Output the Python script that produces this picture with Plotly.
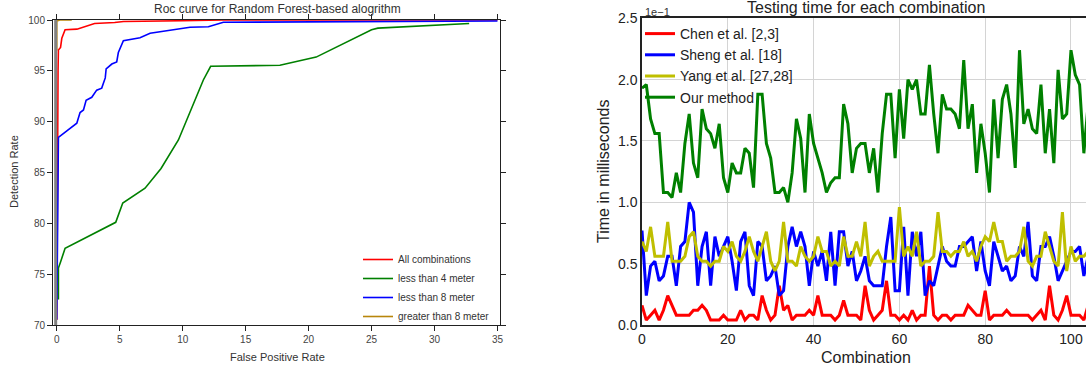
import plotly.graph_objects as go

W, H = 1086, 368

# ---------------- Left chart: ROC curves ----------------
roc_all_x = [0.0, 0.02, 0.05, 0.1, 0.13, 0.26, 0.3, 0.4, 0.53, 0.66, 1.6, 2.65, 3.0, 4.6, 5.3, 10.0, 13.2, 35.0]
roc_all_y = [70.5, 80.0, 88.0, 95.0, 97.05, 97.2, 97.3, 98.2, 98.6, 99.05, 99.1, 99.5, 99.65, 99.75, 99.85, 99.93, 100.0, 100.0]

roc_lt4_x = [0.13, 0.13, 0.3, 0.66, 4.68, 5.24, 7.01, 8.28, 9.66, 11.32, 11.64, 12.22, 17.72, 20.6, 25.0, 25.5, 32.75]
roc_lt4_y = [72.5, 75.6, 76.2, 77.55, 80.1, 82.0, 83.45, 85.4, 88.2, 93.1, 94.1, 95.45, 95.55, 96.35, 99.05, 99.2, 99.65]

roc_lt8_x = [0.0, 0.05, 0.13, 0.8, 1.59, 1.85, 2.12, 2.33, 2.78, 3.17, 3.57, 3.85, 3.92, 4.37, 4.76, 4.89, 5.29,
             6.61, 7.41, 10.58, 12.04, 13.23, 35.0]
roc_lt8_y = [70.55, 81.0, 88.45, 89.1, 89.85, 90.9, 91.15, 92.1, 92.4, 93.1, 93.3, 94.3, 95.2, 95.67, 95.88, 96.8,
             97.97, 98.26, 98.7, 99.28, 99.34, 99.78, 99.9]

roc_gt8_x = [0.0, 0.0, 0.25, 1.19]
roc_gt8_y = [97.0, 99.9, 100.0, 100.0]

roc_names = ["All combinations", "less than 4 meter", "less than 8 meter", "greater than 8 meter"]
roc_xticks = [0, 5, 10, 15, 20, 25, 30, 35]
roc_yticks = [70, 75, 80, 85, 90, 95, 100]

# ---------------- Right chart: testing time (units of 1e-1 ms) ----------------
chen = [0.16, 0.04, 0.08, 0.12, 0.04, 0.12, 0.24, 0.16, 0.08, 0.08, 0.08, 0.08, 0.12, 0.12, 0.16, 0.12, 0.04, 0.04,
        0.04, 0.08, 0.04, 0.04, 0.04, 0.12, 0.04, 0.08, 0.08, 0.04, 0.24, 0.12, 0.04, 0.08, 0.32, 0.12, 0.16, 0.04,
        0.08, 0.08, 0.08, 0.12, 0.08, 0.24, 0.08, 0.08, 0.08, 0.04, 0.08, 0.20, 0.08, 0.08, 0.08, 0.04, 0.32, 0.12,
        0.04, 0.08, 0.12, 0.36, 0.08, 0.08, 0.04, 0.08, 0.04, 0.12, 0.04, 0.08, 0.08, 0.48, 0.08, 0.04, 0.08, 0.08,
        0.04, 0.08, 0.08, 0.08, 0.16, 0.12, 0.08, 0.08, 0.28, 0.04, 0.08, 0.08, 0.08, 0.12, 0.08, 0.08, 0.08, 0.08,
        0.08, 0.04, 0.08, 0.12, 0.04, 0.32, 0.08, 0.04, 0.12, 0.24, 0.08, 0.08, 0.08, 0.04, 0.16]
sheng = [0.77, 0.24, 0.48, 0.52, 0.36, 0.40, 0.56, 0.56, 0.32, 0.64, 0.68, 1.00, 0.92, 0.32, 0.64, 0.76, 0.32, 0.72,
         0.56, 0.64, 0.72, 0.52, 0.28, 0.68, 0.76, 0.32, 0.24, 0.68, 0.64, 0.36, 0.40, 0.48, 0.24, 0.28, 0.64, 0.80,
         0.64, 0.76, 0.64, 0.32, 0.60, 0.48, 0.60, 0.36, 0.76, 0.32, 0.76, 0.76, 0.48, 0.60, 0.36, 0.44, 0.56, 0.36,
         0.32, 0.32, 0.32, 0.64, 0.88, 0.28, 0.28, 0.80, 0.24, 0.76, 0.56, 0.76, 0.24, 0.36, 0.32, 0.48, 0.64, 0.52,
         0.48, 0.48, 0.64, 0.64, 0.68, 0.72, 0.44, 0.68, 0.44, 0.32, 0.68, 0.56, 0.44, 0.48, 0.36, 0.40, 0.64, 0.56,
         0.84, 0.40, 0.36, 0.64, 0.64, 0.72, 0.56, 0.36, 0.44, 0.52, 0.60, 0.60, 0.64, 0.40, 0.56]
yang = [0.68, 0.60, 0.80, 0.56, 0.56, 0.56, 0.84, 0.52, 0.52, 0.52, 0.56, 0.72, 0.76, 0.56, 0.52, 0.52, 0.48, 0.52,
        0.52, 0.64, 0.60, 0.68, 0.56, 0.52, 0.60, 0.72, 0.60, 0.52, 0.64, 0.76, 0.52, 0.44, 0.52, 0.84, 0.52, 0.52,
        0.48, 0.64, 0.56, 0.52, 0.56, 0.72, 0.60, 0.60, 0.48, 0.52, 0.48, 0.72, 0.56, 0.56, 0.68, 0.56, 0.84, 0.48,
        0.56, 0.60, 0.52, 0.52, 0.52, 0.52, 0.96, 0.56, 0.64, 0.56, 0.76, 0.48, 0.52, 0.52, 0.56, 0.92, 0.60, 0.60,
        0.56, 0.60, 0.60, 0.68, 0.56, 0.60, 0.52, 0.64, 0.72, 0.68, 0.84, 0.68, 0.68, 0.52, 0.56, 0.56, 0.60, 0.80,
        0.52, 0.48, 0.56, 0.56, 0.76, 0.64, 0.52, 0.48, 0.92, 0.44, 0.64, 0.52, 0.56, 0.56, 0.60]
ours = [1.93, 1.96, 1.68, 1.56, 1.56, 1.08, 1.08, 1.04, 1.24, 1.08, 1.48, 1.72, 1.32, 1.20, 1.76, 1.60, 1.56, 1.44,
        1.64, 1.20, 1.08, 1.32, 1.24, 1.24, 1.44, 1.40, 1.12, 1.88, 1.88, 1.48, 1.36, 1.08, 1.08, 1.12, 1.00, 1.24,
        1.68, 1.52, 1.08, 1.72, 1.48, 1.36, 1.24, 1.08, 1.16, 1.20, 1.20, 1.80, 1.64, 1.24, 1.44, 1.48, 1.48, 1.24,
        1.44, 1.08, 1.56, 1.88, 1.88, 1.36, 1.92, 1.52, 2.00, 1.92, 2.00, 1.72, 1.72, 2.12, 1.72, 1.40, 1.88, 1.76,
        1.76, 1.72, 1.60, 2.16, 1.60, 1.80, 1.24, 1.64, 1.40, 1.08, 1.84, 1.36, 1.84, 1.96, 1.72, 1.28, 2.24, 1.64,
        1.76, 1.60, 1.56, 1.96, 1.40, 1.76, 1.32, 2.08, 1.68, 1.72, 2.24, 2.04, 1.96, 1.40, 1.80]
combination = list(range(len(ours)))
time_names = ["Chen et al. [2,3]", "Sheng et al. [18]", "Yang et al. [27,28]", "Our method"]
time_xticks = [0, 20, 40, 60, 80, 100]
time_yticks = [0.0, 0.5, 1.0, 1.5, 2.0, 2.5]

FONT = "Liberation Sans, Arial, sans-serif"

fig = go.Figure()

# left traces
for xs, ys, name, col in [(roc_all_x, roc_all_y, roc_names[0], "#ff0000"),
                          (roc_lt4_x, roc_lt4_y, roc_names[1], "#008000"),
                          (roc_lt8_x, roc_lt8_y, roc_names[2], "#0000ff"),
                          (roc_gt8_x, roc_gt8_y, roc_names[3], "#b8860b")]:
    fig.add_trace(go.Scatter(x=xs, y=ys, mode="lines", name=name, line=dict(color=col, width=1.6),
                             xaxis="x", yaxis="y", legend="legend"))

# right traces
for ys, name, col in [(chen, time_names[0], "#ff0000"),
                      (sheng, time_names[1], "#0000ff"),
                      (yang, time_names[2], "#bfbf00"),
                      (ours, time_names[3], "#008000")]:
    fig.add_trace(go.Scatter(x=combination, y=ys, mode="lines", name=name, line=dict(color=col, width=3),
                             xaxis="x2", yaxis="y2", legend="legend2"))

def px(x):
    return x / W

def py(y):
    return (H - y) / H

left_axis_common = dict(ticks="outside", ticklen=5, tickcolor="#222", showline=True, mirror="ticks",
                        linecolor="#222", linewidth=1, showgrid=False, zeroline=False, automargin=False,
                        tickfont=dict(family=FONT, size=10, color="#444"))

fig.update_layout(
    width=W, height=H, margin=dict(l=0, r=0, t=0, b=0, autoexpand=False),
    paper_bgcolor="white", plot_bgcolor="white",
    font=dict(family=FONT),
    xaxis=dict(domain=[px(53), px(500)], range=[-0.3, 35.2], tickvals=roc_xticks, anchor="y",
               **left_axis_common),
    yaxis=dict(domain=[py(325), py(20)], range=[70, 100], tickvals=roc_yticks, anchor="x",
               **left_axis_common),
    xaxis2=dict(domain=[px(642), 1.0], range=[0, 103.5], tickvals=time_xticks, anchor="y2",
                showline=True, mirror=True, linecolor="#222", linewidth=1.5, ticks="",
                showgrid=True, gridcolor="#d4d4d4", gridwidth=1, zeroline=False, automargin=False,
                tickfont=dict(family=FONT, size=14, color="#222")),
    yaxis2=dict(domain=[py(325), py(18.3)], range=[0, 2.5], tickvals=time_yticks, tickformat=".1f",
                anchor="x2", showline=True, mirror=False, linecolor="#222", linewidth=1.5, ticks="",
                showgrid=True, gridcolor="#d4d4d4", gridwidth=1, zeroline=False, automargin=False,
                tickfont=dict(family=FONT, size=14, color="#222")),
    legend=dict(x=px(358), y=py(245), xanchor="left", yanchor="top", bgcolor="rgba(0,0,0,0)",
                font=dict(family=FONT, size=10, color="#333"), tracegroupgap=0, itemwidth=30),
    legend2=dict(x=px(640), y=py(18), xanchor="left", yanchor="top", bgcolor="rgba(0,0,0,0)",
                 font=dict(family=FONT, size=14, color="#222"), tracegroupgap=0, itemwidth=30),
    showlegend=True,
)

# gray thick left spine of left chart
fig.add_shape(type="line", xref="x domain", yref="y domain", x0=0.006, x1=0.006, y0=0, y1=1,
              line=dict(color="#808080", width=3))

ann = [
    dict(text="Roc curve for Random Forest-based alogrithm", x=px(277), y=py(9), size=12, color="#333"),
    dict(text="False Positive Rate", x=px(277), y=py(357), size=11, color="#333"),
    dict(text="Detection Rate", x=px(14), y=py(172), size=11, color="#333", angle=-90),
    dict(text="Testing time for each combination", x=px(866), y=py(8), size=16, color="#222"),
    dict(text="Combination", x=px(866), y=py(357), size=16, color="#222"),
    dict(text="Time in milliseconds", x=px(603), y=py(172), size=16, color="#222", angle=-90),
]
for a in ann:
    fig.add_annotation(text=a["text"], x=a["x"], y=a["y"], xref="paper", yref="paper",
                       showarrow=False, xanchor="center", yanchor="middle",
                       textangle=a.get("angle", 0), font=dict(family=FONT, size=a["size"], color=a["color"]))
fig.add_annotation(text="1e\u22121", x=px(643), y=py(12), xref="paper", yref="paper", showarrow=False,
                   xanchor="left", yanchor="middle", font=dict(family=FONT, size=11, color="#333"))

fig.write_html("out.html", config={"displayModeBar": False},
               post_script="document.body.style.margin='0';document.body.style.padding='0';"
                           "document.body.style.overflow='hidden';")
